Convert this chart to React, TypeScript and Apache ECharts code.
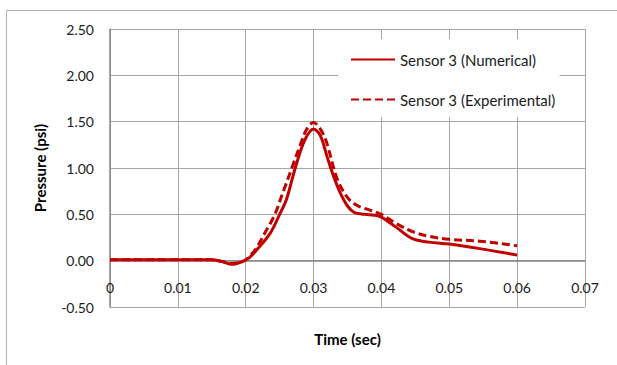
import React, { useEffect, useRef } from "react";
import * as echarts from "echarts";

const numTime = [0, 0.005, 0.01, 0.015, 0.0165, 0.018, 0.0195, 0.0205, 0.0216, 0.0236, 0.025, 0.026, 0.0273, 0.0287, 0.03, 0.031, 0.032, 0.033, 0.034, 0.035, 0.036, 0.0375, 0.039, 0.04, 0.042, 0.0445, 0.047, 0.05, 0.0545, 0.06];
const numPressure = [0.01, 0.01, 0.01, 0.01, -0.01, -0.04, -0.01, 0.03, 0.115, 0.295, 0.5, 0.66, 1.0, 1.3, 1.42, 1.35, 1.12, 0.9, 0.72, 0.59, 0.52, 0.5, 0.49, 0.47, 0.37, 0.24, 0.2, 0.18, 0.13, 0.06];

const expTime = [0, 0.005, 0.01, 0.015, 0.0165, 0.018, 0.0195, 0.0205, 0.0216, 0.0228, 0.0243, 0.0255, 0.0268, 0.0282, 0.029, 0.03, 0.031, 0.0319, 0.0334, 0.0349, 0.0363, 0.0383, 0.04, 0.0422, 0.0447, 0.0472, 0.05, 0.0545, 0.06];
const expPressure = [0.01, 0.01, 0.01, 0.01, -0.01, -0.03, -0.01, 0.04, 0.14, 0.295, 0.5, 0.74, 1.0, 1.28, 1.42, 1.49, 1.42, 1.28, 0.9, 0.69, 0.6, 0.545, 0.5, 0.4, 0.31, 0.26, 0.23, 0.21, 0.16];

const seriesNames = ["Sensor 3 (Numerical)", "Sensor 3 (Experimental)"];
const xTicks = { min: 0, max: 0.07, interval: 0.01 };
const yTicks = { min: -0.5, max: 2.5, interval: 0.5 };

const FONT = "Lato";
const RED = "#C00000";

const GRID_TOP = 29;
const GRID_H = 278;

export default function App() {
  const ref = useRef<HTMLDivElement>(null);
  useEffect(() => {
    document.body.style.margin = "0";
    const chart = echarts.init(ref.current!, null, { renderer: "svg" });
    const numData = numTime.map((t, i) => [t, numPressure[i]]);
    const expData = expTime.map((t, i) => [t, expPressure[i]]);
    // distance from grid bottom to the y = 0 line
    const zeroOffset = (GRID_H * (0 - yTicks.min)) / (yTicks.max - yTicks.min);
    chart.setOption({
      animation: false,
      backgroundColor: "#fff",
      textStyle: { fontFamily: FONT },
      graphic: [
        {
          type: "rect",
          z: -10,
          shape: { x: 6.5, y: 10.5, width: 700, height: 400 },
          style: { fill: "none", stroke: "#b3b3b3", lineWidth: 1 },
          silent: true,
        },
      ],
      grid: {
        left: 110,
        top: GRID_TOP,
        width: 475,
        height: GRID_H,
        containLabel: false,
        outerBoundsMode: "none",
      },
      legend: {
        orient: "vertical",
        left: 338,
        top: 39,
        padding: [13, 4, 10, 12],
        backgroundColor: "#fff",
        itemWidth: 44,
        itemHeight: 14,
        itemGap: 25,
        itemStyle: { opacity: 0, color: "rgba(0,0,0,0)", borderWidth: 0 },
        textStyle: { fontFamily: FONT, fontSize: 15, color: "#1a1a1a" },
        data: seriesNames,
      },
      xAxis: {
        type: "value",
        min: xTicks.min,
        max: xTicks.max,
        interval: xTicks.interval,
        position: "bottom",
        offset: -zeroOffset,
        name: "Time (sec)",
        nameLocation: "middle",
        nameGap: 71,
        nameTextStyle: { fontFamily: FONT, fontSize: 15, fontWeight: "bold", color: "#000" },
        axisLine: { show: true, onZero: false, lineStyle: { color: "#868686", width: 1.5 } },
        axisTick: { show: false },
        axisLabel: {
          margin: 20,
          fontFamily: FONT,
          fontSize: 14,
          color: "#1a1a1a",
          formatter: (v: number) => (v === 0 ? "0" : v.toFixed(2)),
        },
        splitLine: { show: true, lineStyle: { color: "#a6a6a6", width: 1 } },
      },
      yAxis: {
        type: "value",
        min: yTicks.min,
        max: yTicks.max,
        interval: yTicks.interval,
        name: "Pressure (psi)",
        nameLocation: "middle",
        nameGap: 63,
        nameRotate: 90,
        nameTextStyle: { fontFamily: FONT, fontSize: 15, fontWeight: "bold", color: "#000" },
        axisLine: { show: true, onZero: false, lineStyle: { color: "#868686", width: 1.5 } },
        axisTick: { show: false },
        axisLabel: {
          margin: 16,
          fontFamily: FONT,
          fontSize: 14,
          color: "#1a1a1a",
          formatter: (v: number) => v.toFixed(2),
        },
        splitLine: { show: true, lineStyle: { color: "#a6a6a6", width: 1 } },
      },
      series: [
        {
          name: seriesNames[0],
          type: "line",
          data: numData,
          smooth: 0.35,
          symbol: "none",
          lineStyle: { color: RED, width: 3 },
          itemStyle: { color: RED },
        },
        {
          name: seriesNames[1],
          type: "line",
          data: expData,
          smooth: 0.35,
          symbol: "none",
          lineStyle: { color: RED, width: 3, type: [8, 4] },
          itemStyle: { color: RED },
        },
      ],
    });
    return () => chart.dispose();
  }, []);
  return <div ref={ref} style={{ width: 617, height: 365 }} />;
}
